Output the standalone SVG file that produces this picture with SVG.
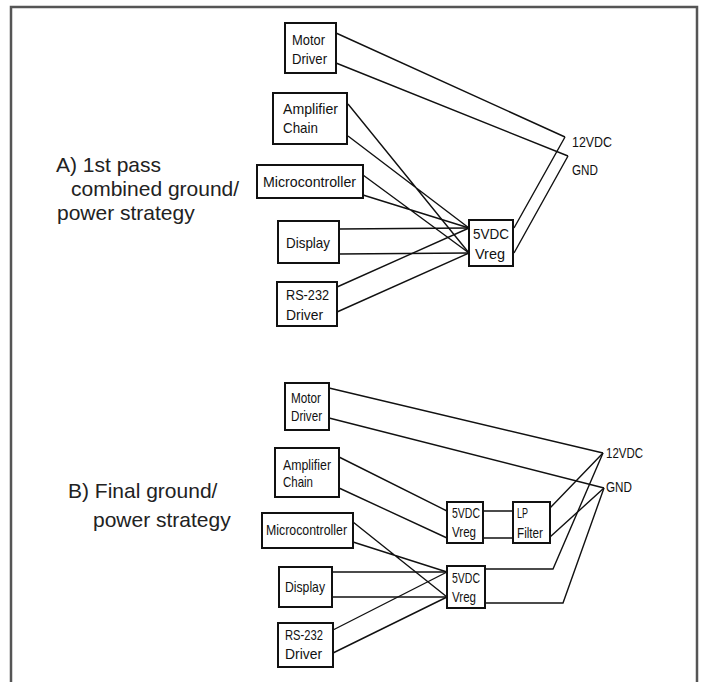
<svg xmlns="http://www.w3.org/2000/svg" width="702" height="682" viewBox="0 0 702 682">
<style>
.box{fill:#fff;stroke:#111;stroke-width:2}
.w{fill:none;stroke:#111;stroke-width:1.4}
.t{font-family:"Liberation Sans",Arial,sans-serif;font-size:15px;fill:#111}
.s{font-family:"Liberation Sans",Arial,sans-serif;font-size:15px;fill:#111}
.big{font-family:"Liberation Sans",Arial,sans-serif;font-size:21px;fill:#222}
</style>
<rect width="702" height="682" fill="#fff"/>
<path d="M11,682 V7 H697 V682" fill="none" stroke="#555" stroke-width="2.5"/>
<text class="big"><tspan x="56" y="172">A) 1st pass</tspan><tspan x="71" y="196">combined ground/</tspan><tspan x="57" y="220">power strategy</tspan></text>
<text class="big"><tspan x="68" y="498">B) Final ground/</tspan><tspan x="93" y="527">power strategy</tspan></text>
<g id="connectors">
<path class="w" d="M336,33 L565,137 M336,63 L568,156"/>
<path class="w" d="M565,137 L514,228 M568,156 L514,253"/>
<path class="w" d="M348,104 L469,253 M348,136 L469,228"/>
<path class="w" d="M363,175 L469,253 M363,195 L469,228"/>
<path class="w" d="M339,229 L469,228 M339,254 L469,253"/>
<path class="w" d="M337,287 L469,228 M337,312 L469,253"/>
<path class="w" d="M329,388 L603,453 M329,418 L604,488"/>
<path class="w" d="M339,457 L447,511 M339,488 L447,538"/>
<path class="w" d="M483,511 L513,511 M483,538 L513,538"/>
<path class="w" d="M550,508 L603,453 M550,537 L604,488"/>
<path class="w" d="M485,569 L553,569 L603,453 M485,603 L563,603 L604,488"/>
<path class="w" d="M353,522 L447,597 M353,542 L447,572"/>
<path class="w" d="M332,572 L447,572 M332,597 L447,597"/>
<path class="w" d="M333,630 L447,572 M333,653 L447,597"/>
</g>
<g id="a-motor"><rect class="box" x="285" y="23" width="51" height="50" stroke-width="2.5"/><text class="t" x="292" y="45" textLength="33" lengthAdjust="spacingAndGlyphs">Motor</text><text class="t" x="292" y="64" textLength="35" lengthAdjust="spacingAndGlyphs">Driver</text></g>
<g id="a-amp"><rect class="box" x="273" y="93" width="74" height="51"/><text class="t" x="283" y="114" textLength="55" lengthAdjust="spacingAndGlyphs">Amplifier</text><text class="t" x="283" y="133" textLength="35" lengthAdjust="spacingAndGlyphs">Chain</text></g>
<g id="a-micro"><rect class="box" x="257" y="165" width="106" height="33"/><text class="t" x="263" y="187" textLength="93" lengthAdjust="spacingAndGlyphs">Microcontroller</text></g>
<g id="a-display"><rect class="box" x="278" y="221" width="61" height="42"/><text class="t" x="286" y="248" textLength="44" lengthAdjust="spacingAndGlyphs">Display</text></g>
<g id="a-rs232"><rect class="box" x="277" y="282" width="60" height="44"/><text class="t" x="286" y="300" textLength="43" lengthAdjust="spacingAndGlyphs">RS-232</text><text class="t" x="286" y="320" textLength="37" lengthAdjust="spacingAndGlyphs">Driver</text></g>
<g id="a-vreg"><rect class="box" x="469" y="220" width="44" height="46"/><text class="t" x="473" y="239" textLength="36" lengthAdjust="spacingAndGlyphs">5VDC</text><text class="t" x="475" y="259" textLength="30" lengthAdjust="spacingAndGlyphs">Vreg</text></g>
<g id="a-12v"><text class="t" x="572" y="147" textLength="40" lengthAdjust="spacingAndGlyphs">12VDC</text></g>
<g id="a-gnd"><text class="t" x="572" y="175" textLength="26" lengthAdjust="spacingAndGlyphs">GND</text></g>
<g id="b-motor"><rect class="box" x="285" y="383" width="44" height="47"/><text class="s" x="291" y="403" textLength="30" lengthAdjust="spacingAndGlyphs">Motor</text><text class="s" x="291" y="421" textLength="31" lengthAdjust="spacingAndGlyphs">Driver</text></g>
<g id="b-amp"><rect class="box" x="275" y="448" width="64" height="49"/><text class="s" x="283" y="470" textLength="48" lengthAdjust="spacingAndGlyphs">Amplifier</text><text class="s" x="283" y="487" textLength="30" lengthAdjust="spacingAndGlyphs">Chain</text></g>
<g id="b-micro"><rect class="box" x="262" y="513" width="91" height="35"/><text class="s" x="266" y="535" textLength="81" lengthAdjust="spacingAndGlyphs">Microcontroller</text></g>
<g id="b-display"><rect class="box" x="279" y="567" width="53" height="40"/><text class="s" x="285" y="592" textLength="40" lengthAdjust="spacingAndGlyphs">Display</text></g>
<g id="b-rs232"><rect class="box" x="278" y="623" width="55" height="44"/><text class="s" x="285" y="640" textLength="38" lengthAdjust="spacingAndGlyphs">RS-232</text><text class="s" x="285" y="659" textLength="37" lengthAdjust="spacingAndGlyphs">Driver</text></g>
<g id="b-vreg1"><rect class="box" x="447" y="502" width="36" height="41"/><text class="s" x="452" y="518" textLength="28" lengthAdjust="spacingAndGlyphs">5VDC</text><text class="s" x="452" y="537" textLength="24" lengthAdjust="spacingAndGlyphs">Vreg</text></g>
<g id="b-lp"><rect class="box" x="513" y="502" width="37" height="41"/><text class="s" x="517" y="518" textLength="11" lengthAdjust="spacingAndGlyphs">LP</text><text class="s" x="517" y="538" textLength="26" lengthAdjust="spacingAndGlyphs">Filter</text></g>
<g id="b-vreg2"><rect class="box" x="447" y="566" width="38" height="42"/><text class="s" x="452" y="583" textLength="28" lengthAdjust="spacingAndGlyphs">5VDC</text><text class="s" x="452" y="602" textLength="24" lengthAdjust="spacingAndGlyphs">Vreg</text></g>
<g id="b-12v"><text class="s" x="606" y="458" textLength="37" lengthAdjust="spacingAndGlyphs">12VDC</text></g>
<g id="b-gnd"><text class="s" x="606" y="492" textLength="26" lengthAdjust="spacingAndGlyphs">GND</text></g>
</svg>
